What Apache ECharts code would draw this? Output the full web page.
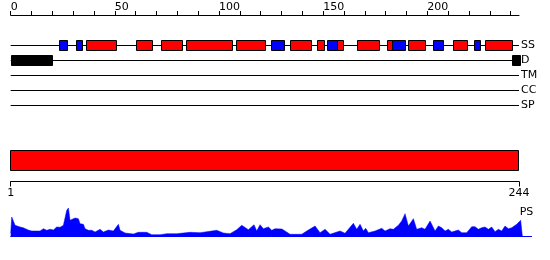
<!DOCTYPE html>
<html>
<head>
<meta charset="utf-8">
<script src="https://cdn.jsdelivr.net/npm/echarts@6/dist/echarts.min.js"></script>
<style>
  html, body { margin: 0; padding: 0; background: #fff; }
  #chart { width: 550px; height: 260px; }
</style>
</head>
<body>
<div id="chart"></div>
<script>
// 序列长度和轨道
const seqLength = 244
const trackNames = ['SS', 'D', 'TM', 'CC', 'SP']

// 二级结构: H = 螺旋(红), E = 折叠(蓝)
const ssStart = [23, 31.5, 36, 60, 72, 84, 108, 125, 134, 147, 152, 156.5, 166, 180.5, 183, 190.5, 202.5, 212.5, 222.5, 227.5]
const ssEnd   = [27, 34, 50.5, 68, 82, 106, 122, 131, 144, 150.5, 156.5, 159.5, 177, 183, 189.5, 199, 207.5, 219, 225.5, 240.5]
const ssKind  = ['E', 'E', 'H', 'H', 'H', 'H', 'H', 'E', 'H', 'H', 'E', 'H', 'H', 'H', 'E', 'H', 'E', 'H', 'E', 'H']

// 无序区域
const disStart = [0, 240.5]
const disEnd = [20, 244.5]

// 刻度
const topTicks = [0, 10, 20, 30, 40, 50, 60, 70, 80, 90, 100, 110, 120, 130, 140, 150, 160, 170, 180, 190, 200, 210, 220, 230, 240]
const topLabels = [0, 50, 100, 150, 200]
const bottomLabels = [1, 244]

// PS 曲线
const psPos = [0, 0.5, 2.1, 4.5, 6.0, 6.9, 8.4, 10.1, 14.1, 15.7,
  17.3, 18.9, 20.5, 22.1, 23.7, 25.3, 26.9, 27.7, 28.5, 29.3,
  30.9, 32.5, 33.3, 34.9, 35.7, 37.3, 38.9, 40.5, 42.9, 44.5,
  46.9, 49.3, 51.7, 52.5, 54.9, 58.9, 61.3, 65.3, 67.7, 71.7,
  74.9, 79.7, 86.1, 90.9, 98.9, 102.1, 105.3, 108.5, 110.9, 114.1,
  116.8, 118.1, 119.7, 121.3, 123.7, 125.3, 126.9, 127.8, 130.2, 131.7,
  134.1, 139.7, 142.1, 146.1, 148.5, 150.9, 153.3, 158.1, 160.5, 164.5,
  166.1, 167.7, 169.3, 170.4, 171.7, 174.9, 178.1, 179.7, 182.1, 183.7,
  186.1, 187.7, 189.3, 190.9, 193.3, 194.9, 197.3, 198.9, 201.3, 203.7,
  205.3, 206.9, 208.5, 210.1, 211.7, 214.9, 216.5, 218.9, 221.3, 222.9,
  224.5, 226.1, 227.7, 229.3, 230.9, 232.5, 234.1, 235.7, 237.3, 238.9,
  240.5, 242.9, 244.8, 245.6]
const psVal = [3, 19, 10.7, 9, 8.3, 9, 6, 5, 5, 7.3,
  5.7, 6.7, 6, 9, 8.7, 10.7, 25.7, 28, 15.7, 17.3,
  18, 17.3, 12.3, 11.7, 7.3, 5.7, 5.7, 4, 6.7, 4,
  6, 5, 11.7, 5.7, 3, 2, 3.7, 3.7, 1.3, 1.3,
  2.3, 2.3, 3.7, 3.3, 5.7, 3, 2.3, 6.3, 10.7, 6.3,
  11.3, 5, 11.3, 7.3, 9, 5.7, 7.3, 6.7, 7, 5,
  1.7, 1.7, 5, 10, 3.3, 6.7, 1.7, 5, 2.7, 12.7,
  6.7, 11.7, 5, 7.7, 3.3, 5, 7.7, 5, 7.3, 6.7,
  10.7, 15, 22.3, 10, 17.3, 6.7, 8.3, 6.7, 15, 5,
  10, 8.3, 5, 6.7, 4, 6, 3.3, 3.3, 9.3, 9.3,
  6.7, 8.3, 9, 6.7, 9, 4.3, 6.7, 5, 10, 7.3,
  8.3, 11.7, 15.7, 0]
const psMax = 30

const kindColor = { H: '#ff0000', E: '#0000ff', D: '#000000' }
const font = { fontFamily: 'DejaVu Sans', fontSize: 11, color: '#000' }

// 特征框数据: [start, end, track]
let featData = []
let featKind = []
ssStart.forEach((s, i) => {
  featData.push([s, ssEnd[i], 0])
  featKind.push(ssKind[i])
})
disStart.forEach((s, i) => {
  featData.push([s, disEnd[i], 1])
  featKind.push('D')
})
const lineData = trackNames.map((n, i) => [0, seqLength, i])

let chart = echarts.init(document.getElementById('chart'), null, { renderer: 'canvas' })
chart.setOption({
  animation: false,
  grid: [
    { left: 10.7, width: 508.3, top: 38, height: 75, outerBoundsMode: 'none' },
    { left: 10.7, width: 508.3, top: 150.5, height: 20, outerBoundsMode: 'none' },
    { left: 10.7, width: 520.8, top: 206, height: 30, outerBoundsMode: 'none' }
  ],
  xAxis: [
    {
      gridIndex: 0, type: 'value', position: 'top', offset: 23,
      min: 0, max: seqLength,
      axisLine: { show: true, onZero: false, lineStyle: { color: '#000', width: 1 } },
      axisTick: { show: true, length: 4, customValues: topTicks, lineStyle: { color: '#000' } },
      axisLabel: Object.assign({ customValues: topLabels, align: 'left', margin: 2 }, font),
      splitLine: { show: false }
    },
    {
      gridIndex: 1, type: 'value', position: 'bottom', offset: 11,
      min: 1, max: seqLength,
      axisLine: { show: true, onZero: false, lineStyle: { color: '#000', width: 1 } },
      axisTick: { show: true, length: 5, customValues: bottomLabels, lineStyle: { color: '#000' } },
      axisLabel: Object.assign({ customValues: bottomLabels, margin: 6 }, font),
      splitLine: { show: false }
    },
    {
      gridIndex: 2, type: 'value', min: 0, max: 250,
      axisLine: { show: true, onZero: false, lineStyle: { color: '#0000ff', width: 1 } },
      axisTick: { show: false },
      axisLabel: { show: false },
      splitLine: { show: false }
    }
  ],
  yAxis: [
    {
      gridIndex: 0, type: 'category', data: trackNames, inverse: true, position: 'right',
      axisLine: { show: false },
      axisTick: { show: false },
      axisLabel: Object.assign({ margin: 2 }, font),
      splitLine: { show: false }
    },
    {
      gridIndex: 1, type: 'category', data: ['seq'], show: false
    },
    {
      gridIndex: 2, type: 'value', min: 0, max: psMax, show: false
    }
  ],
  series: [
    {
      // 轨道线
      type: 'custom',
      xAxisIndex: 0, yAxisIndex: 0,
      encode: { x: [0, 1], y: 2 },
      data: lineData,
      z: 1,
      renderItem(params, api) {
        const p0 = api.coord([api.value(0), api.value(2)])
        const p1 = api.coord([api.value(1), api.value(2)])
        return {
          type: 'line',
          shape: { x1: p0[0], y1: p0[1], x2: p1[0], y2: p1[1] },
          style: { stroke: '#000', lineWidth: 1 }
        }
      }
    },
    {
      // 特征框
      type: 'custom',
      xAxisIndex: 0, yAxisIndex: 0,
      encode: { x: [0, 1], y: 2 },
      data: featData,
      z: 2,
      renderItem(params, api) {
        const p0 = api.coord([api.value(0), api.value(2)])
        const p1 = api.coord([api.value(1), api.value(2)])
        const h = 10
        const x0 = Math.round(p0[0]) + 0.5
        const x1 = Math.round(p1[0]) + 0.5
        return {
          type: 'rect',
          shape: { x: x0, y: p0[1] - h / 2, width: x1 - x0, height: h },
          style: { fill: kindColor[featKind[params.dataIndex]], stroke: '#000', lineWidth: 1 }
        }
      }
    },
    {
      // 序列条
      type: 'custom',
      xAxisIndex: 1, yAxisIndex: 1,
      encode: { x: [0, 1], y: 2 },
      data: [[1, seqLength, 0]],
      renderItem(params, api) {
        const p0 = api.coord([api.value(0), 0])
        const p1 = api.coord([api.value(1), 0])
        const h = api.size([0, 1])[1]
        return {
          type: 'rect',
          shape: { x: Math.round(p0[0]) - 0.5, y: p0[1] - h / 2, width: Math.round(p1[0] - p0[0]), height: h },
          style: { fill: '#ff0000', stroke: '#000', lineWidth: 1 }
        }
      }
    },
    {
      type: 'line',
      xAxisIndex: 2, yAxisIndex: 2,
      data: psPos.map((p, i) => [p, psVal[i]]),
      symbol: 'none',
      lineStyle: { color: '#0000ff', width: 0.5 },
      areaStyle: { color: '#0000ff', opacity: 1 }
    }
  ]
})

// PS 标签, 放在曲线末端上方
const psEnd = chart.convertToPixel({ gridIndex: 2 }, [psPos[psPos.length - 1], psMax])
chart.setOption({
  graphic: [{
    type: 'text',
    x: psEnd[0] + 11, y: psEnd[1] + 1,
    style: { text: 'PS', fill: '#000', font: '11px "DejaVu Sans"', align: 'right', verticalAlign: 'top' }
  }]
})
</script>
</body>
</html>
